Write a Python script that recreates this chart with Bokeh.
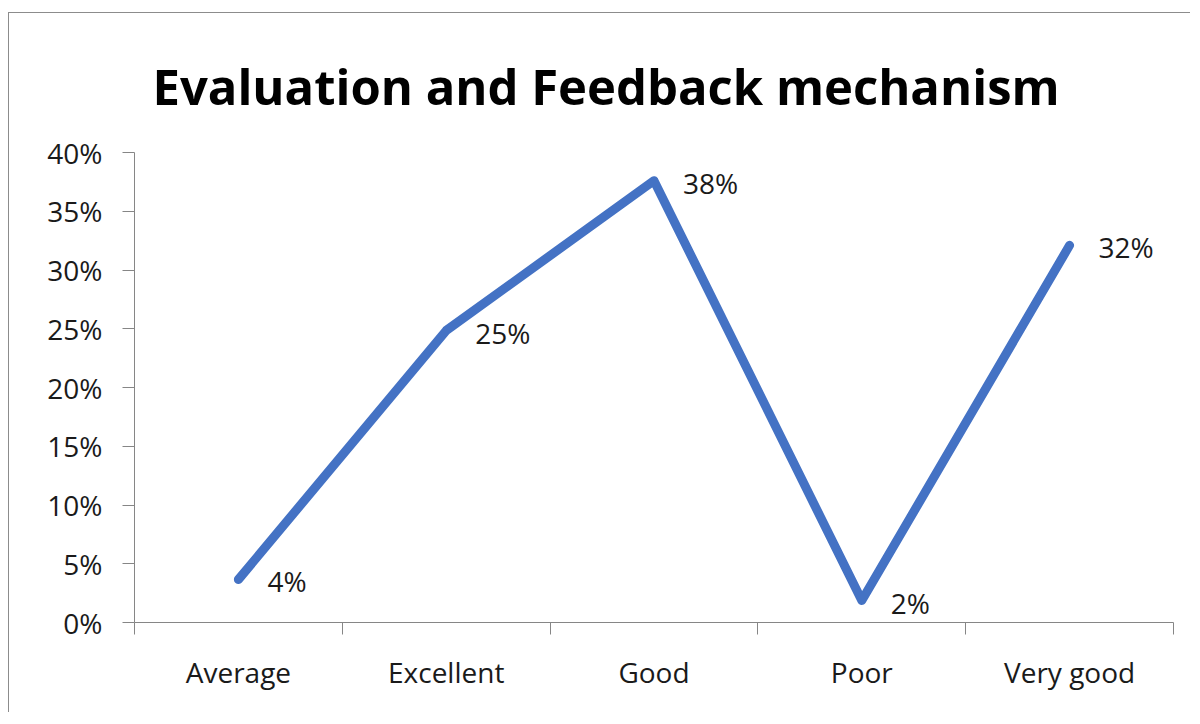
from bokeh.plotting import figure
from bokeh.models import Range1d, FixedTicker, NumeralTickFormatter, ColumnDataSource
from bokeh.core.properties import value
from bokeh.embed import file_html
from bokeh.resources import INLINE

# ---- data ----
categories = ["Average", "Excellent", "Good", "Poor", "Very good"]
percent_values = [3.66, 24.85, 37.6, 1.87, 32.1]
y_ticks = [0, 5, 10, 15, 20, 25, 30, 35, 40]
title_text = "Evaluation and Feedback mechanism"

FONT = "Open Sans"
TEXT_COLOR = "#1a1a1a"
AXIS_COLOR = "#868686"
LINE_COLOR = "#4472C4"

xs = [i + 0.5 for i in range(len(categories))]
ys = [v / 100 for v in percent_values]
labels = [f"{round(v)}%" for v in percent_values]
src = ColumnDataSource(dict(x=xs, y=ys, label=labels))

p = figure(width=1182, height=700, output_backend="svg", toolbar_location=None,
           x_range=Range1d(0, len(categories)), y_range=Range1d(y_ticks[0] / 100, y_ticks[-1] / 100),
           min_border_left=125, min_border_right=18, min_border_top=139, min_border_bottom=91)
p.margin = (12, 0, 0, 8)
p.styles = {"border-top": "1px solid #8c8c8c", "border-left": "1px solid #8c8c8c"}

p.title.text = title_text
p.title.text_font = FONT
p.title.text_font_style = "bold"
p.title.text_font_size = "49px"
p.title.text_color = "black"
p.title.align = "left"
p.title.offset = 18
p.title.standoff = 68

p.outline_line_color = None
p.xgrid.grid_line_color = None
p.ygrid.grid_line_color = None
p.background_fill_color = "white"
p.border_fill_color = "white"

# y axis
ya = p.yaxis[0]
ya.ticker = FixedTicker(ticks=[t / 100 for t in y_ticks])
ya.formatter = NumeralTickFormatter(format="0%")
ya.axis_line_color = AXIS_COLOR
ya.major_tick_line_color = AXIS_COLOR
ya.major_tick_in = 0
ya.major_tick_out = 12
ya.minor_tick_line_color = None
ya.major_label_standoff = 20
ya.major_label_text_font = FONT
ya.major_label_text_font_size = "28px"
ya.major_label_text_color = TEXT_COLOR

# x axis: labels at category centres, tick marks at boundaries
xa = p.xaxis[0]
xa.ticker = FixedTicker(ticks=xs, minor_ticks=list(range(len(categories) + 1)))
xa.major_label_overrides = {x: c for x, c in zip(xs, categories)}
xa.axis_line_color = AXIS_COLOR
xa.major_tick_line_color = None
xa.minor_tick_line_color = AXIS_COLOR
xa.minor_tick_in = 0
xa.minor_tick_out = 12
xa.major_tick_out = 12
xa.major_tick_in = 0
xa.major_label_standoff = 18
xa.major_label_text_font = FONT
xa.major_label_text_font_size = "28px"
xa.major_label_text_color = TEXT_COLOR

p.line("x", "y", source=src, line_color=LINE_COLOR, line_width=9,
       line_cap="round", line_join="round")
p.text("x", "y", text="label", source=src, x_offset=29, y_offset=2,
       text_baseline="middle", text_align="left",
       text_font=value(FONT), text_font_size="28px", text_color=TEXT_COLOR)

open("out.html", "w").write(file_html(p, INLINE))
